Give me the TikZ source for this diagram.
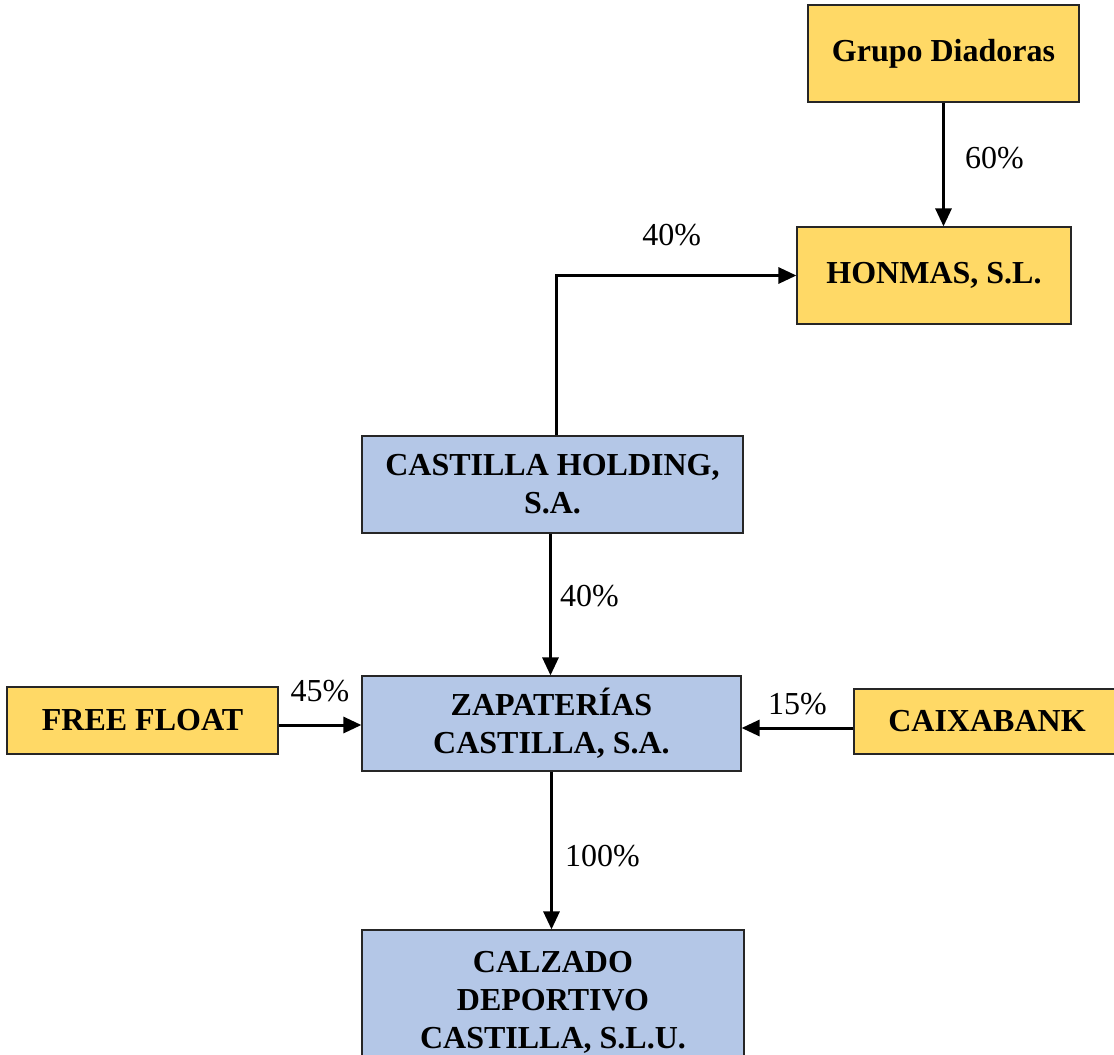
\documentclass[tikz,border=0pt]{standalone}
\usepackage{fontspec}
\setmainfont{Liberation Serif}
\usetikzlibrary{arrows.meta}
\definecolor{ownyellow}{HTML}{FFD966}
\definecolor{ownblue}{HTML}{B4C7E7}
\tikzset{
  entity/.style={draw=black!85, line width=0.6pt, align=center, inner sep=2pt,
    font=\fontsize{16}{19}\selectfont\bfseries},
  ybox/.style={entity, fill=ownyellow},
  bbox/.style={entity, fill=ownblue},
  share/.style={line width=1.5pt, -{Triangle[length=9pt,width=8pt]}},
  pct/.style={font=\fontsize{16}{19}\selectfont, inner sep=0pt}
}
\begin{document}
\begin{tikzpicture}[x=0.5pt,y=-0.5pt]
\useasboundingbox (0,0) rectangle (1114,1055);
% companies
\node[ybox, minimum width=135.5pt, minimum height=48.5pt] (grupo) at (943.5,53.5) {Grupo Diadoras};
\node[ybox, minimum width=137pt, minimum height=48.5pt] (honmas) at (934,275.5) {HONMAS, S.L.};
\node[bbox, minimum width=190.5pt, minimum height=48.5pt] (holding) at (552.5,484.5) {CASTILLA HOLDING,\\S.A.};
\node[bbox, minimum width=189.5pt, minimum height=47.5pt] (zapat) at (551.5,723.5) {ZAPATER\'IAS\\CASTILLA, S.A.};
\node[ybox, minimum width=135.5pt, minimum height=33.5pt] (free) at (142.5,720.5) {FREE FLOAT};
\node[ybox, minimum width=133pt, minimum height=32.5pt] (caixa) at (987,721.5) {CAIXABANK};
\node[bbox, minimum width=191pt, minimum height=72pt] (calzado) at (553,1002) {CALZADO\\DEPORTIVO\\CASTILLA, S.L.U.};
% shareholdings
\draw[share] (grupo.south) -- node[pct, right=10pt, yshift=3pt] {60\%} (grupo.south |- honmas.north);
\draw[share] ([xshift=2pt]holding.north) |- node[pct, pos=0.74, above=14pt] {40\%} (honmas.west);
\draw[share] ([xshift=-1pt]holding.south) -- node[pct, right=4pt, yshift=4pt] {40\%} ([xshift=-1pt]holding.south |- zapat.north);
\draw[share] (free.east |- 0,725) -- node[pct, above=11pt] {45\%} (zapat.west |- 0,725);
\draw[share] (caixa.west |- 0,728) -- node[pct, above=6pt] {15\%} (zapat.east |- 0,728);
\draw[share] (zapat.south) -- node[pct, right=6pt, yshift=-3pt] {100\%} (zapat.south |- calzado.north);
\end{tikzpicture}
\end{document}
